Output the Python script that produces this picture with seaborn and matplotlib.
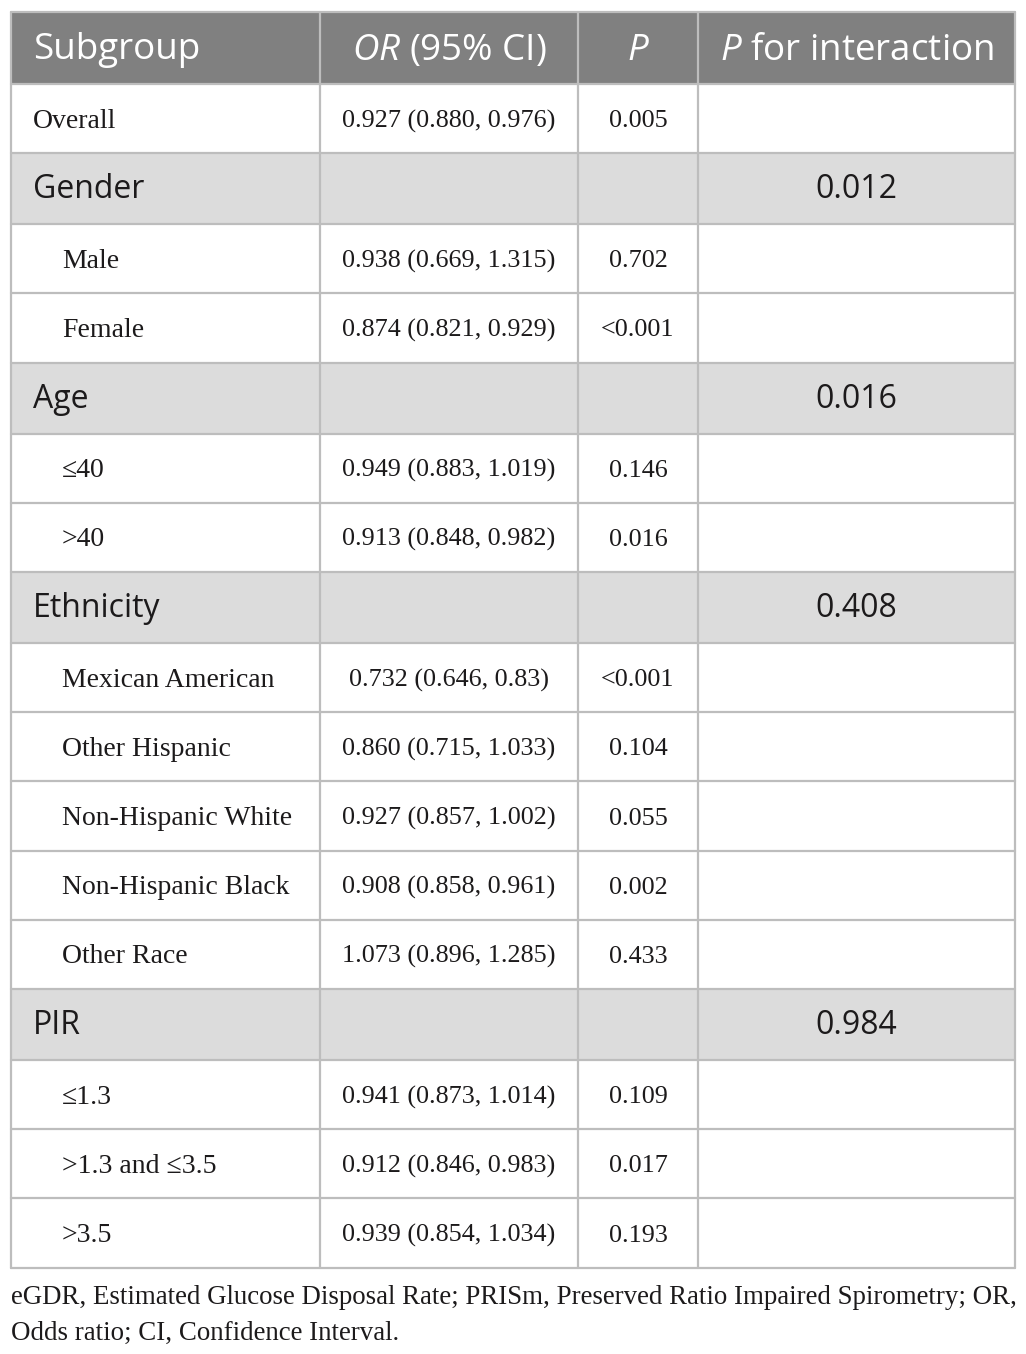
import matplotlib
matplotlib.use("Agg")
import matplotlib.pyplot as plt
import matplotlib.patches as mpatches
import seaborn as sns

# ---------------- data ----------------
headers = [r"Subgroup", r"$\mathit{OR}$ (95% CI)", r"$\mathit{P}$", r"$\mathit{P}$ for interaction"]

subgroups = ["Overall", "Gender", "Male", "Female", "Age", "\u226440", ">40",
             "Ethnicity", "Mexican American", "Other Hispanic", "Non-Hispanic White",
             "Non-Hispanic Black", "Other Race", "PIR", "\u22641.3",
             ">1.3 and \u22643.5", ">3.5"]
row_kind = ["top", "section", "sub", "sub", "section", "sub", "sub",
            "section", "sub", "sub", "sub", "sub", "sub", "section", "sub", "sub", "sub"]
or_ci = ["0.927 (0.880, 0.976)", "", "0.938 (0.669, 1.315)", "0.874 (0.821, 0.929)", "",
         "0.949 (0.883, 1.019)", "0.913 (0.848, 0.982)", "",
         "0.732 (0.646, 0.83)", "0.860 (0.715, 1.033)", "0.927 (0.857, 1.002)",
         "0.908 (0.858, 0.961)", "1.073 (0.896, 1.285)", "",
         "0.941 (0.873, 1.014)", "0.912 (0.846, 0.983)", "0.939 (0.854, 1.034)"]
p_values = ["0.005", "", "0.702", "<0.001", "", "0.146", "0.016", "",
            "<0.001", "0.104", "0.055", "0.002", "0.433", "", "0.109", "0.017", "0.193"]
p_interaction = ["", "0.012", "", "", "0.016", "", "", "0.408", "", "", "", "", "",
                 "0.984", "", "", ""]
footnote = ["eGDR, Estimated Glucose Disposal Rate; PRISm, Preserved Ratio Impaired Spirometry; OR,",
            "Odds ratio; CI, Confidence Interval."]

# ---------------- style ----------------
sns.set_theme(style="white")
plt.rcParams["font.family"] = ["Liberation Serif", "DejaVu Serif"]
plt.rcParams["mathtext.fontset"] = "custom"
plt.rcParams["mathtext.it"] = "Open Sans:italic"
plt.rcParams["mathtext.rm"] = "Open Sans"

HEADER_BG = "#808080"
SECTION_BG = "#dcdcdc"
GRID = "#bdbdbd"
TEXT = "#1c1a1b"

SANS = ["Open Sans", "DejaVu Sans"]
SERIF = ["Liberation Serif", "DejaVu Serif"]

W, H = 1026, 1354
fig = plt.figure(figsize=(W / 100, H / 100), dpi=100)
ax = fig.add_axes([0, 0, 1, 1])
ax.set_xlim(0, W)
ax.set_ylim(H, 0)
ax.axis("off")

col_x = [11, 320, 578, 698, 1015]
top = 12
header_h = 72
sec_h = 71
sub_h = 69.2

# row boundaries
bounds = [top, top + header_h]
for k in row_kind:
    bounds.append(bounds[-1] + (sec_h if k == "section" else sub_h))

# header background
ax.add_patch(mpatches.Rectangle((col_x[0], bounds[0]), col_x[-1] - col_x[0], header_h,
                                facecolor=HEADER_BG, edgecolor="none", zorder=0))
for i, k in enumerate(row_kind):
    y0, y1 = bounds[i + 1], bounds[i + 2]
    if k == "section":
        ax.add_patch(mpatches.Rectangle((col_x[0], y0), col_x[-1] - col_x[0], y1 - y0,
                                        facecolor=SECTION_BG, edgecolor="none", zorder=0))

# grid lines
for y in bounds:
    ax.plot([col_x[0], col_x[-1]], [y, y], color=GRID, lw=1.6, zorder=1)
for x in col_x:
    ax.plot([x, x], [bounds[0], bounds[-1]], color=GRID, lw=1.6, zorder=1)

centers = [(col_x[i] + col_x[i + 1]) / 2 for i in range(4)]

BODY_FS = 18.8
LABEL_FS = 20
SEC_FS = 23
HEAD_FS = 26.5

# header text
hy = (bounds[0] + bounds[1]) / 2 + 2.5
ax.text(col_x[0] + 22, hy, headers[0], color="white", fontsize=HEAD_FS, family=SANS,
        ha="left", va="center")
for j in (1, 2, 3):
    ax.text(centers[j], hy, headers[j], color="white", fontsize=HEAD_FS, family=SANS,
            ha="center", va="center")

# body
for i, k in enumerate(row_kind):
    y = (bounds[i + 1] + bounds[i + 2]) / 2
    yb = y + 2.5
    if k == "section":
        ax.text(col_x[0] + 22, y + 1, subgroups[i], color=TEXT, fontsize=SEC_FS, family=SANS,
                ha="left", va="center")
    else:
        xoff = 22 if k == "top" else 51
        ax.text(col_x[0] + xoff, yb, subgroups[i], color=TEXT, fontsize=LABEL_FS, family=SERIF,
                ha="left", va="center")
    if or_ci[i]:
        ax.text(centers[1], yb, or_ci[i], color=TEXT, fontsize=BODY_FS, family=SERIF,
                ha="center", va="center")
    if p_values[i]:
        ax.text(centers[2], yb, p_values[i], color=TEXT, fontsize=BODY_FS, family=SERIF,
                ha="center", va="center")
    if p_interaction[i]:
        ax.text(centers[3], y + 1, p_interaction[i], color=TEXT, fontsize=SEC_FS, family=SANS,
                ha="center", va="center")

# footnote
for n, line in enumerate(footnote):
    ax.text(col_x[0], 1298 + 35 * n, line, color=TEXT, fontsize=19.4, family=SERIF,
            ha="left", va="center")

fig.savefig("out.png", dpi=100, facecolor="white")
